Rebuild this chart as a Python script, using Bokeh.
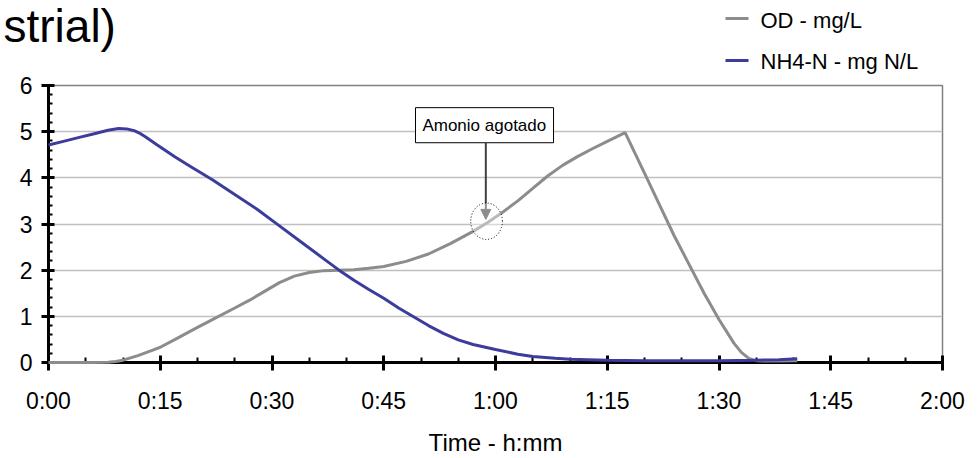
from bokeh.plotting import figure
from bokeh.layouts import column
from bokeh.models import Range1d, FixedTicker, Arrow, NormalHead
from bokeh.core.properties import value
from bokeh.embed import file_html
from bokeh.resources import INLINE

FONT = "Liberation Sans"

# ---- data (time in minutes) ----
od_time = [0, 3, 6, 8, 9, 10, 11, 12, 13, 14, 15, 17, 20, 22, 25, 27, 29, 31, 33, 35, 37, 39,
           41, 43, 45, 48, 51, 54, 57, 59, 61, 63, 65, 67, 69, 71, 73, 75, 77.4, 80, 82, 84,
           86, 88, 90, 92, 93, 94, 95, 96, 98, 100.5]
od_value = [0, 0, 0, 0.005, 0.02, 0.05, 0.1, 0.15, 0.21, 0.27, 0.33, 0.5, 0.76, 0.93, 1.18,
            1.35, 1.54, 1.73, 1.87, 1.95, 1.99, 2.0, 2.01, 2.04, 2.08, 2.19, 2.35, 2.58, 2.84,
            3.04, 3.26, 3.5, 3.77, 4.04, 4.27, 4.46, 4.63, 4.79, 4.98, 4.1, 3.42, 2.74, 2.12,
            1.5, 0.93, 0.42, 0.22, 0.09, 0.04, 0.03, 0.03, 0.04]

nh4_time = [0, 2, 4, 6, 8, 9.4, 10.5, 11.5, 12.2, 13, 14.6, 17, 19, 22, 25, 28, 31, 34, 37,
            39, 41, 43, 45, 47, 49, 51, 53, 55, 57, 60, 63, 65, 68, 70, 75, 80, 85, 90, 95,
            98, 100.5]
nh4_value = [4.71, 4.79, 4.87, 4.95, 5.03, 5.07, 5.06, 5.02, 4.97, 4.89, 4.71, 4.45, 4.25,
             3.96, 3.64, 3.32, 2.96, 2.6, 2.24, 2.0, 1.78, 1.58, 1.39, 1.18, 0.99, 0.8, 0.63,
             0.49, 0.39, 0.28, 0.18, 0.13, 0.09, 0.07, 0.05, 0.04, 0.04, 0.04, 0.05, 0.06, 0.08]

series_labels = ["OD - mg/L", "NH4-N - mg N/L"]
series_colors = ["#8c8c8c", "#3c3c9c"]
x_ticks = [0, 15, 30, 45, 60, 75, 90, 105, 120]
x_tick_labels = ["0:00", "0:15", "0:30", "0:45", "1:00", "1:15", "1:30", "1:45", "2:00"]
y_ticks = [0, 1, 2, 3, 4, 5, 6]
title_text = "strial)"
x_title = "Time - h:mm"
note_text = "Amonio agotado"

W = 979
HEAD_H = 74


def no_frame_align(fig):
    if "frame_align" in fig.properties():
        fig.frame_align = False


# ---- header strip: cut-off title and legend (pixel coordinates) ----
head = figure(width=W, height=HEAD_H, output_backend="svg", toolbar_location=None,
              x_range=Range1d(0, W), y_range=Range1d(HEAD_H, 0),
              x_axis_type=None, y_axis_type=None,
              min_border_left=0, min_border_right=0, min_border_top=0, min_border_bottom=0)
no_frame_align(head)
head.outline_line_color = None
head.background_fill_color = "white"
head.border_fill_color = "white"
head.text(x=[3], y=[25], text=[title_text], text_font=value(FONT), text_font_size="46px",
          text_baseline="middle", text_align="left", text_color="black")
head.segment(x0=[725, 725], y0=[18, 60], x1=[748, 748], y1=[18, 60],
             line_color=series_colors, line_width=3)
head.text(x=[760, 760], y=[20, 60.5], text=series_labels, text_font=value(FONT),
          text_font_size="22px", text_baseline="middle", text_align="left",
          text_color="black")

# ---- main chart ----
p = figure(width=W, height=458 - HEAD_H, output_backend="svg", toolbar_location=None,
           x_range=Range1d(0, 120), y_range=Range1d(0, 6),
           min_border_left=48, min_border_right=37, min_border_top=85 - HEAD_H,
           min_border_bottom=93)
no_frame_align(p)
p.background_fill_color = "white"
p.border_fill_color = "white"
p.outline_line_color = "#808080"
p.outline_line_width = 1.5

p.xgrid.visible = False
p.ygrid.grid_line_color = "#c0c0c0"
p.ygrid.grid_line_width = 1.5

x_minor = [m for m in range(0, 121, 5) if m % 15]
y_minor = [i / 5 for i in range(31) if i % 5]
p.xaxis.ticker = FixedTicker(ticks=x_ticks, minor_ticks=x_minor)
p.xaxis.major_label_overrides = {t: l for t, l in zip(x_ticks, x_tick_labels)}
p.yaxis.ticker = FixedTicker(ticks=y_ticks, minor_ticks=y_minor)

for ax in (p.xaxis[0], p.yaxis[0]):
    ax.axis_line_color = "black"
    ax.axis_line_width = 3
    ax.major_tick_line_color = "black"
    ax.major_tick_line_width = 3
    ax.minor_tick_line_color = "black"
    ax.minor_tick_line_width = 2
    ax.major_label_text_font = FONT
    ax.major_label_text_font_size = "23px"
    ax.major_label_text_color = "black"

xa = p.xaxis[0]
xa.major_tick_in = 7
xa.major_tick_out = 8
xa.minor_tick_in = 5
xa.minor_tick_out = 0
xa.major_label_standoff = 17
xa.axis_label = x_title
xa.axis_label_text_font = FONT
xa.axis_label_text_font_size = "24px"
xa.axis_label_text_font_style = "normal"
xa.axis_label_text_color = "black"
xa.axis_label_standoff = 12

ya = p.yaxis[0]
ya.major_tick_in = 6
ya.major_tick_out = 7
ya.minor_tick_in = 4
ya.minor_tick_out = 0
ya.major_label_standoff = 9

# ---- series (drawn over the axes, as in the original) ----
p.line(od_time, od_value, line_color=series_colors[0], line_width=3, level="overlay")
p.line(nh4_time, nh4_value, line_color=series_colors[1], line_width=3, level="overlay")

# ---- annotation ----
p.ellipse(x=[58.8], y=[3.06], width=4.25, height=0.79, fill_color="white", fill_alpha=0.4,
          line_color="black", line_dash="1 2", line_width=1, level="overlay")
p.add_layout(Arrow(end=NormalHead(size=10, fill_color="#404040", line_color="#404040"),
                   x_start=58.7, y_start=4.76, x_end=58.7, y_end=3.1,
                   line_color="#404040", line_width=2))
p.quad(left=[49.26], right=[67.79], top=[5.52], bottom=[4.76], fill_color="white",
       line_color="black", line_width=1)
p.text(x=[58.5], y=[5.14], text=[note_text], text_align="center", text_baseline="middle",
       text_font=value(FONT), text_font_size="17px", text_color="black")

layout = column(head, p, spacing=0)
open("out.html", "w").write(file_html(layout, INLINE))
